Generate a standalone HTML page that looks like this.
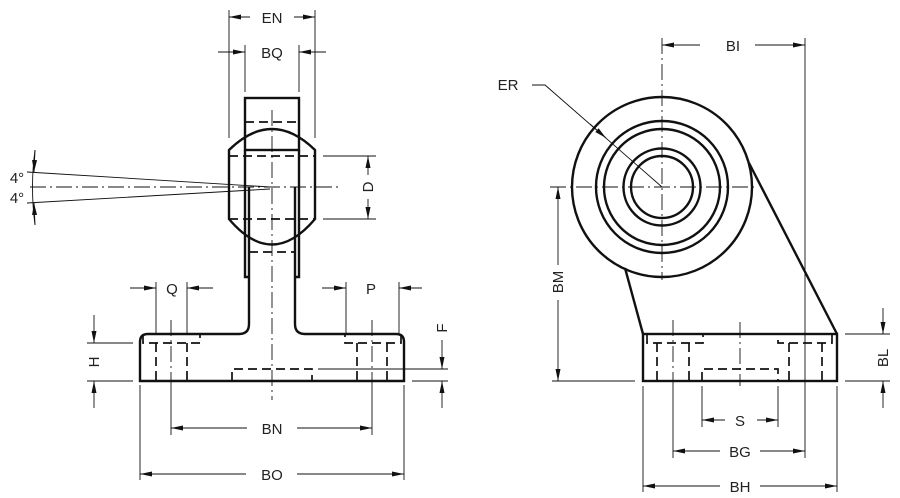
<!DOCTYPE html>
<html><head><meta charset="utf-8"><style>body{margin:0;background:#fff}svg{display:block}text{font-family:"Liberation Sans",sans-serif;font-size:15px;fill:#222}</style></head><body>
<svg width="900" height="498" viewBox="0 0 900 498" xmlns="http://www.w3.org/2000/svg">
<defs><marker id="a" markerWidth="12" markerHeight="6" refX="12" refY="3" orient="auto-start-reverse" markerUnits="userSpaceOnUse"><path d="M0,0.5 L12,3 L0,5.5 z" fill="#111"/></marker></defs>
<g stroke="#111" fill="none">
<g stroke-width="2.4">
<rect x="245" y="98" width="54" height="52"/>
<path d="M229,150 Q272,108 315,150 L315,219 Q272,270 229,219 Z"/>
<path d="M245,150 V277 H249 M299,150 V277 H295"/>
<path d="M249,187 V324 Q249,334 239,334 H148 Q140,334 140,342 V381 H404 V342 Q404,334 396,334 H305 Q295,334 295,324 V187"/>
</g>
<g stroke-width="1.7" stroke-dasharray="9,5">
<path d="M245,122 H299 M229,156 H315 M229,219 H315 M249,252 H295"/>
<path d="M143,335 V343 H200 V335 M156,343 V381 M187,343 V381"/>
<path d="M401,335 V343 H345 V335 M357,343 V381 M387,343 V381"/>
<path d="M232,381 V369 H312 V381"/>
</g>
<g stroke-width="0.9">
<path d="M272,110 V400 M171,320 V386 M372,320 V386" stroke-dasharray="16,4,2,4"/>
<path d="M30,187 H340" stroke-dasharray="16,4,2,4"/>
<path d="M270,187 L27,172 M270,189 L27,203"/>
<path d="M35,150 Q30,187 35,225"/>
<path d="M35,150 L34,172" marker-end="url(#a)"/><path d="M35,225 L34,203" marker-end="url(#a)"/>
<path d="M229,10 V138 M315,10 V138 M245,45 V92 M299,45 V92"/>
<path d="M250,17 H229" marker-end="url(#a)"/><path d="M294,17 H315" marker-end="url(#a)"/>
<path d="M218,52 H245" marker-end="url(#a)"/><path d="M326,52 H299" marker-end="url(#a)"/>
<path d="M323,156 H376 M323,219 H376"/>
<path d="M368,175 V156" marker-end="url(#a)"/><path d="M368,199 V219" marker-end="url(#a)"/>
<path d="M156,282 V334 M187,282 V334 M346,282 V334 M399,282 V334"/>
<path d="M130,288 H156" marker-end="url(#a)"/><path d="M213,288 H187" marker-end="url(#a)"/>
<path d="M322,288 H346" marker-end="url(#a)"/><path d="M422,288 H399" marker-end="url(#a)"/>
<path d="M87,343 H133 M87,381 H133"/>
<path d="M94,315 V343" marker-end="url(#a)"/><path d="M94,408 V381" marker-end="url(#a)"/>
<path d="M318,369 H448 M412,381 H448"/>
<path d="M442,340 V369" marker-end="url(#a)"/><path d="M442,408 V381" marker-end="url(#a)"/>
<path d="M171,386 V435 M372,386 V435 M140,385 V480 M404,385 V480"/>
<path d="M247,428 H171" marker-end="url(#a)"/><path d="M297,428 H372" marker-end="url(#a)"/>
<path d="M246,474 H140" marker-end="url(#a)"/><path d="M297,474 H404" marker-end="url(#a)"/>
</g>
<g stroke-width="2.4">
<circle cx="662" cy="187" r="90"/><circle cx="662" cy="187" r="66"/><circle cx="662" cy="187" r="58"/><circle cx="662" cy="187" r="38.5"/><circle cx="662" cy="187" r="31"/>
<path d="M625,268 L643,334 M749,163 L837,334"/>
<rect x="643" y="334" width="194" height="47"/>
</g>
<g stroke-width="1.7" stroke-dasharray="9,5">
<path d="M647,335 V343 H703 V335 M657,343 V381 M689,343 V381"/>
<path d="M832,335 V343 H778 V335 M789,343 V381 M822,343 V381"/>
<path d="M702,381 V369 H778 V381"/>
</g>
<g stroke-width="0.9">
<path d="M662,38 V280 M550,187 H755 M740,322 V386 M673,320 V386" stroke-dasharray="16,4,2,4"/>
<path d="M805,38 V386"/>
<path d="M700,45 H662" marker-end="url(#a)"/><path d="M755,45 H805" marker-end="url(#a)"/>
<path d="M532,85 H545 L662,187"/><path d="M590,124 L606,138" marker-end="url(#a)"/>
<path d="M552,381 H635"/>
<path d="M558,265 V187" marker-end="url(#a)"/><path d="M558,300 V381" marker-end="url(#a)"/>
<path d="M845,334 H890 M845,381 H890"/>
<path d="M883,308 V334" marker-end="url(#a)"/><path d="M883,408 V381" marker-end="url(#a)"/>
<path d="M702,386 V427 M778,386 V427 M673,386 V458 M805,386 V458 M643,386 V492 M837,386 V492"/>
<path d="M725,420 H702" marker-end="url(#a)"/><path d="M757,420 H778" marker-end="url(#a)"/>
<path d="M720,451 H673" marker-end="url(#a)"/><path d="M760,451 H805" marker-end="url(#a)"/>
<path d="M720,486 H643" marker-end="url(#a)"/><path d="M760,486 H837" marker-end="url(#a)"/>
</g>
</g>
<g text-anchor="middle">
<text x="272" y="23">EN</text><text x="272" y="58">BQ</text>
<text x="172" y="294">Q</text><text x="371" y="294">P</text>
<text x="272" y="434">BN</text><text x="272" y="480">BO</text>
<text x="733" y="51">BI</text><text x="508" y="90">ER</text>
<text x="740" y="426">S</text><text x="740" y="457">BG</text><text x="740" y="492">BH</text>
<text x="17" y="183">4°</text><text x="17" y="203">4°</text>
<text transform="translate(373,187) rotate(-90)">D</text>
<text transform="translate(99,362) rotate(-90)">H</text>
<text transform="translate(447,328) rotate(-90)">F</text>
<text transform="translate(563,282) rotate(-90)">BM</text>
<text transform="translate(888,358) rotate(-90)">BL</text>
</g>
</svg>
</body></html>
